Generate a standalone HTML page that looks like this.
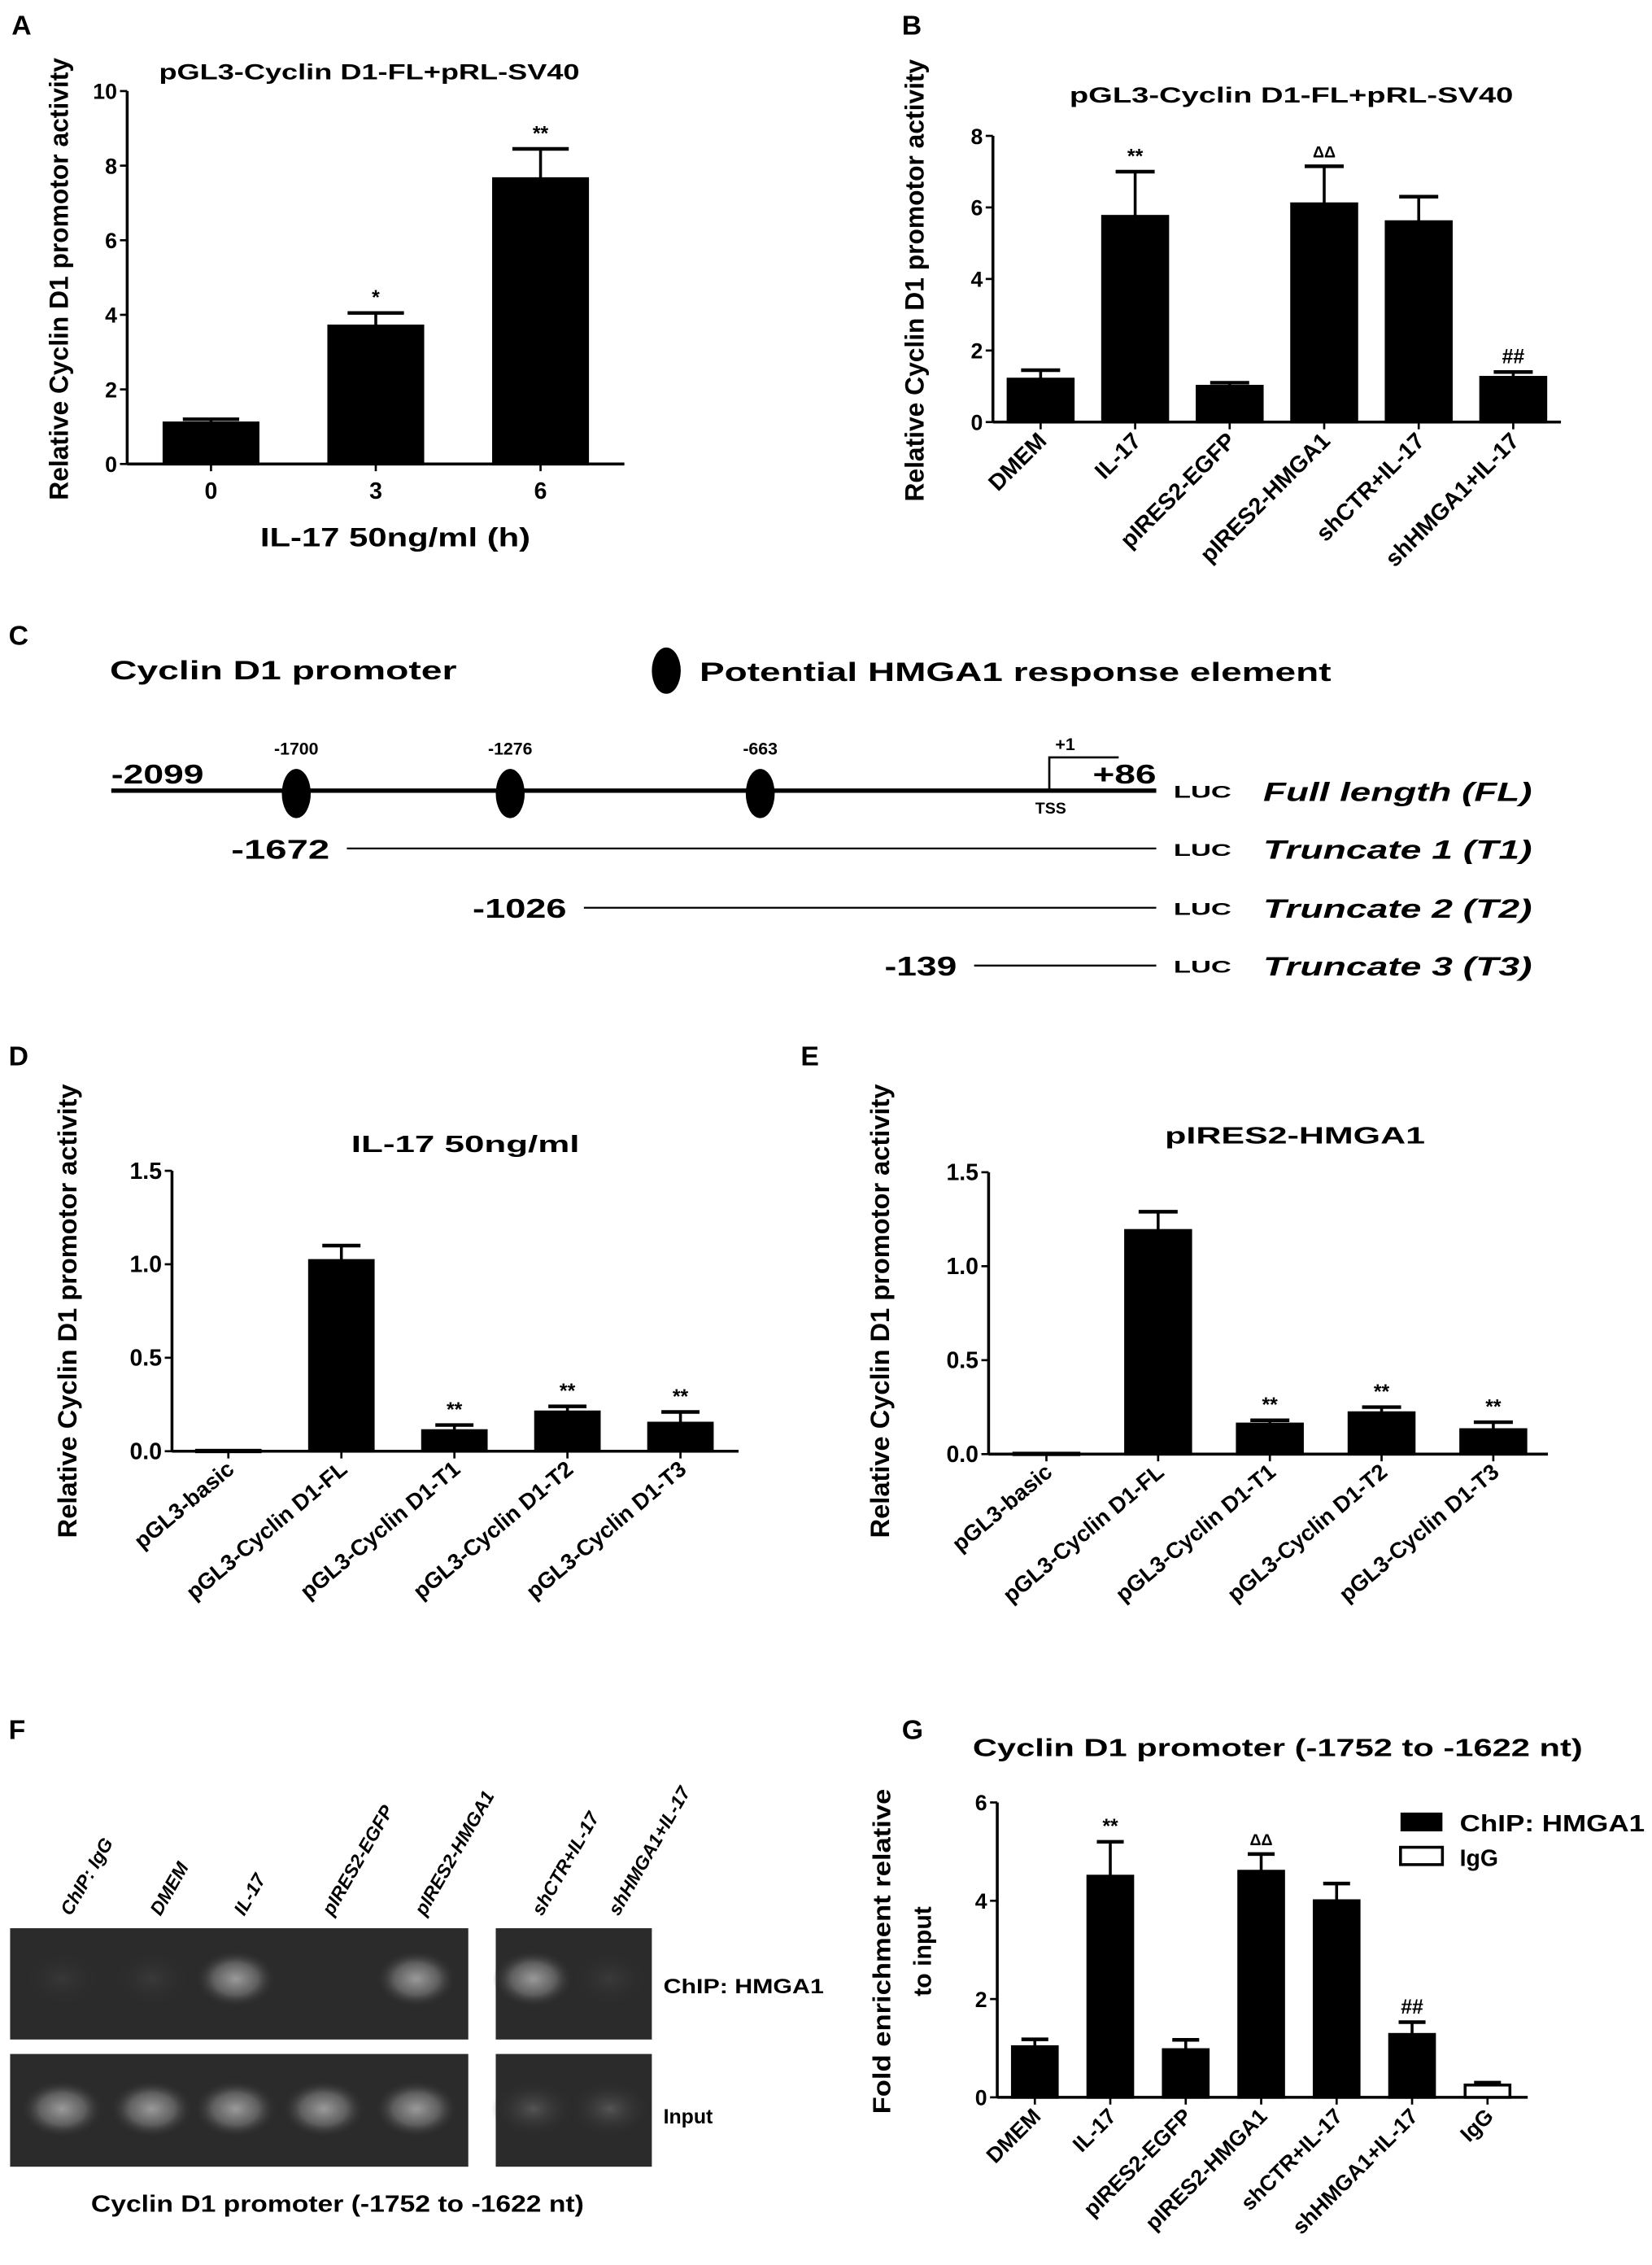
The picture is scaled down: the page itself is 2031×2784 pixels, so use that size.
<!DOCTYPE html>
<html><head><meta charset="utf-8"><style>
html,body{margin:0;padding:0;background:#fff}
svg{display:block}
text{font-family:"Liberation Sans",Arial,sans-serif;font-weight:bold;fill:#000}
</style></head><body>
<svg id="fig" width="2031" height="2784" viewBox="0 0 1143 1567" preserveAspectRatio="none" xmlns="http://www.w3.org/2000/svg">
<defs>
<radialGradient id="band" cx="50%" cy="50%" r="50%"><stop offset="0" stop-color="#9a9a9a"/><stop offset="0.55" stop-color="#5e5e5e"/><stop offset="1" stop-color="#2a2a2a" stop-opacity="0"/></radialGradient>
<radialGradient id="bandw" cx="50%" cy="50%" r="50%"><stop offset="0" stop-color="#555"/><stop offset="1" stop-color="#2a2a2a" stop-opacity="0"/></radialGradient>
</defs>
<g id="root"></g>
</svg>
<script>
// ---- data ----
const catsA = ["0","3","6"];
const valsA = [1.1,3.7,7.65];
const errA = [0.1,0.35,0.8];
const sigA = ["","*","**"];
const ticksA = [0,2,4,6,8,10];

const catsB = ["DMEM","IL-17","pIRES2-EGFP","pIRES2-HMGA1","shCTR+IL-17","shHMGA1+IL-17"];
const valsB = [1.2,5.75,1.0,6.1,5.6,1.25];
const errB = [0.25,1.25,0.1,1.05,0.7,0.15];
const sigB = ["","**","","ΔΔ","","##"];
const ticksB = [0,2,4,6,8];

const catsD = ["pGL3-basic","pGL3-Cyclin D1-FL","pGL3-Cyclin D1-T1","pGL3-Cyclin D1-T2","pGL3-Cyclin D1-T3"];
const valsD = [0.005,1.02,0.11,0.21,0.15];
const errD = [0,0.08,0.03,0.03,0.06];
const sigD = ["","","**","**","**"];
const valsE = [0.005,1.19,0.16,0.22,0.13];
const errE = [0,0.1,0.02,0.03,0.04];
const sigE = ["","","**","**","**"];
const ticksDE = ["0.0","0.5","1.0","1.5"];

const catsG = ["DMEM","IL-17","pIRES2-EGFP","pIRES2-HMGA1","shCTR+IL-17","shHMGA1+IL-17","IgG"];
const valsG = [1.03,4.5,0.97,4.6,4.0,1.28,0.25];
const errG = [0.15,0.7,0.2,0.35,0.35,0.25,0.05];
const sigG = ["","**","","ΔΔ","","##",""];
const fillG = ["#000","#000","#000","#000","#000","#000","#fff"];

const NS="http://www.w3.org/2000/svg";
const root=document.getElementById('root');
function el(tag,attrs,parent,txt){const e=document.createElementNS(NS,tag);for(const k in attrs)e.setAttribute(k,attrs[k]);if(txt!==undefined)e.textContent=txt;(parent||root).appendChild(e);return e;}

function chart(o){
  const g=el('g',{});
  
  
  const y=v=>o.y0-(v-o.min)/(o.max-o.min)*(o.y0-o.y1);
  const x=i=>o.x0c+i*o.step;
  const ya=el('line',{x1:o.ax,y1:o.y1,x2:o.ax,y2:o.y0,stroke:'#000','stroke-width':2},g);
  
  const xa=el('line',{x1:o.ax,y1:o.y0,x2:o.axEnd,y2:o.y0,stroke:'#000','stroke-width':2},g);
  
  o.ticks.forEach(t=>{const v=parseFloat(t);const yy=y(v);
    el('line',{x1:o.ax-5,y1:yy,x2:o.ax,y2:yy,stroke:'#000','stroke-width':1.5},g);
    const tx=el('text',{x:o.ax-7,y:yy+5.5,'text-anchor':'end','font-size':o.tfs||15},g,t);
    });
  o.cats.forEach((c,i)=>{
    const cx=x(i),v=o.vals[i],e=o.err[i];
    el('line',{x1:cx,y1:o.y0,x2:cx,y2:o.y0+5,stroke:'#000','stroke-width':1.5},g);
    if(e>0){el('line',{x1:cx,y1:y(v),x2:cx,y2:y(v+e),stroke:'#000','stroke-width':2},g);
      el('line',{x1:cx-o.bw*0.3,y1:y(v+e),x2:cx+o.bw*0.3,y2:y(v+e),stroke:'#000','stroke-width':2.5},g);}
    const fill=o.fill?o.fill[i]:'#000';
    const r=el('rect',{x:cx-o.bw/2,y:y(v),width:o.bw,height:Math.max(y(0)-y(v),1),fill:fill,stroke:'#000','stroke-width':2},g);
    
    
    if(o.sig[i]){const s=el('text',{x:cx,y:y(v+e)-6,'text-anchor':'middle','font-size':o.sig[i]==='ΔΔ'?11:14,'font-weight':o.sig[i]==='ΔΔ'?'normal':'bold'},g,o.sig[i]);
      }
    let lt;
    if(o.rot){const lx=cx+5,ly=o.y0+14;lt=el('text',{x:lx,y:ly,'text-anchor':'end','font-size':o.lfs||15,transform:`rotate(${o.rot} ${lx} ${ly})`},g,c);}
    else{lt=el('text',{x:cx,y:o.y0+24,'text-anchor':'middle','font-size':16},g,c);}
    
  });
  return g;
}
function label(x,y,t,fs,name,extra,tl){const a=Object.assign({x:x,y:y,'font-size':fs},extra||{});if(tl){a.textLength=tl;a.lengthAdjust='spacingAndGlyphs';}const e=el('text',a,root,t);return e;}
function ytitle(cx,cy,t,fs,name,tl){const a={x:cx,y:cy,'text-anchor':'middle','font-size':fs,transform:`rotate(-90 ${cx} ${cy})`};if(tl){a.textLength=tl;a.lengthAdjust='spacingAndGlyphs';}const e=el('text',a,root,t);return e;}

// Panel A
label(8,24,'A',19,'panel-label-a');
label(110,55,'pGL3-Cyclin D1-FL+pRL-SV40',15,'chart-a-title',{},291);
ytitle(47,193,'Relative Cyclin D1 promotor activity',18,'chart-a-y-title',306);
chart({name:'chart-a',cats:catsA,vals:valsA,err:errA,sig:sigA,ticks:ticksA.map(String),min:0,max:10,ax:88,axEnd:432,y0:321,y1:63,x0c:146,step:114,bw:65});
label(180,378,'IL-17 50ng/ml (h)',18,'chart-a-x-title',{},187);

// Panel B
label(624,24,'B',19,'panel-label-b');
label(740,71,'pGL3-Cyclin D1-FL+pRL-SV40',15,'chart-b-title',{},307);
ytitle(639,194,'Relative Cyclin D1 promotor activity',18,'chart-b-y-title',306);
chart({name:'chart-b',cats:catsB,vals:valsB,err:errB,sig:sigB,ticks:ticksB.map(String),min:0,max:8,ax:687,axEnd:1080,y0:292,y1:94,x0c:720,step:65.4,bw:45,rot:-45,lfs:16});

// Panel C
label(6,446,'C',19,'panel-label-c');
label(76,470,'Cyclin D1 promoter',18,'promoter-title',{},240);
const le=el('ellipse',{cx:461,cy:464,rx:10,ry:16,fill:'#000'});
label(484,471,'Potential HMGA1 response element',18,'legend-response-element-label',{},437);
const ml=el('line',{x1:77,y1:547,x2:800,y2:547,stroke:'#000','stroke-width':3});
label(77,542,'-2099',19,'position-2099',{},64);
[[205,'-1700'],[353,'-1276'],[526,'-663']].forEach(([x,t])=>{const e=el('ellipse',{cx:x,cy:549,rx:10,ry:17,fill:'#000'});label(x,522,t,12,'position-'+t.slice(1),{'text-anchor':'middle'});});
const tss=el('path',{d:'M726 547 V524 H774',fill:'none',stroke:'#000','stroke-width':1.5});
label(737,519,'+1',12,'position-plus1',{'text-anchor':'middle'});
label(756,542,'+86',19,'position-plus86',{},44);
label(727,563,'TSS',11,'tss-label',{'text-anchor':'middle'});
const rows=[[554,'Full length (FL)',null,null],[594,'Truncate 1 (T1)',240,'-1672',160],[635,'Truncate 2 (T2)',404,'-1026',327],[675,'Truncate 3 (T3)',674,'-139',612]];
rows.forEach(([y,t,x0,p,px],i)=>{label(812,y-2,'LUC',12,'luc-label',{},40);label(874,y,t,18,'construct-label',{'font-style':'italic'},186);
 if(x0){const l=el('line',{x1:x0,y1:y-7,x2:800,y2:y-7,stroke:'#000','stroke-width':1.3});label(px,y,p,19,'position'+p,{},x0-px-12);}});

// Panel D
label(6,737,'D',19,'panel-label-d');
label(243,797,'IL-17 50ng/ml',16,'chart-d-title',{},158);
ytitle(53,907,'Relative Cyclin D1 promotor activity',18,'chart-d-y-title',314);
chart({name:'chart-d',cats:catsD,vals:valsD,err:errD,sig:sigD,ticks:ticksDE,min:0,max:1.5,ax:119,axEnd:511,y0:1004,y1:810,x0c:158,step:78.2,bw:44,rot:-40,lfs:15.5,tfs:16});

// Panel E
label(554,737,'E',19,'panel-label-e');
label(806,791,'pIRES2-HMGA1',16,'chart-e-title',{},180);
ytitle(615,907,'Relative Cyclin D1 promotor activity',18,'chart-e-y-title',314);
chart({name:'chart-e',cats:catsD,vals:valsE,err:errE,sig:sigE,ticks:ticksDE,min:0,max:1.5,ax:684,axEnd:1071,y0:1006,y1:811,x0c:724,step:77.3,bw:45,rot:-40,lfs:15.5,tfs:16});

// Panel F (gel)
label(6,1203,'F',19,'panel-label-f');
const gel=el('g',{});
[[7,324],[343,451]].forEach(([a,b])=>{el('rect',{x:a,y:1334,width:b-a,height:77,fill:'#2b2b2b'},gel);el('rect',{x:a,y:1421,width:b-a,height:78,fill:'#2b2b2b'},gel);});
const lanes=[43,105,163,224,288,369,422];
const laneNames=["ChIP: IgG","DMEM","IL-17","pIRES2-EGFP","pIRES2-HMGA1","shCTR+IL-17","shHMGA1+IL-17"];
const chipI=[0.1,0.15,1,0,0.9,0.8,0.15];
const inputI=[1,1,1,1,1,0.6,0.6];
lanes.forEach((x,i)=>{
 if(chipI[i]>0){el('ellipse',{cx:x,cy:1369,rx:28,ry:20,fill:chipI[i]>0.5?'url(#band)':'url(#bandw)',opacity:Math.min(1,chipI[i]+0.2)},gel);}
 el('ellipse',{cx:x,cy:1459,rx:29,ry:20,fill:inputI[i]>0.7?'url(#band)':'url(#bandw)'},gel);
 const lx=x+6,ly=1326;
 const t=el('text',{x:lx,y:ly,'font-size':13,'font-style':'italic',transform:`rotate(-60 ${lx} ${ly})`},root,laneNames[i]);
 
});
label(459,1379,'ChIP: HMGA1',14,'gel-row-label-chip',{},111);
label(459,1469,'Input',14,'gel-row-label-input');
label(63,1530,'Cyclin D1 promoter (-1752 to -1622 nt)',16,'gel-caption',{},341);

// Panel G
label(624,1203,'G',19,'panel-label-g');
label(673,1215,'Cyclin D1 promoter (-1752 to -1622 nt)',17,'chart-g-title',{},422);
ytitle(616,1350,'Fold enrichment relative',17,'chart-g-y-title-1',225);
ytitle(644,1350,'to input',17,'chart-g-y-title-2');
chart({name:'chart-g',cats:catsG,vals:valsG,err:errG,sig:sigG,fill:fillG,ticks:["0","2","4","6"],min:0,max:6,ax:690,axEnd:1057,y0:1451,y1:1247,x0c:716,step:52.2,bw:31,rot:-45,lfs:15});
const lg1=el('rect',{x:969,y:1254,width:29,height:13,fill:'#000'});
label(1010,1267,'ChIP: HMGA1',16,'legend-chip-label',{},128);
const lg2=el('rect',{x:969,y:1278,width:29,height:12,fill:'#fff',stroke:'#000','stroke-width':2});
label(1010,1291,'IgG',16,'legend-igg-label');
</script>
</body></html>
